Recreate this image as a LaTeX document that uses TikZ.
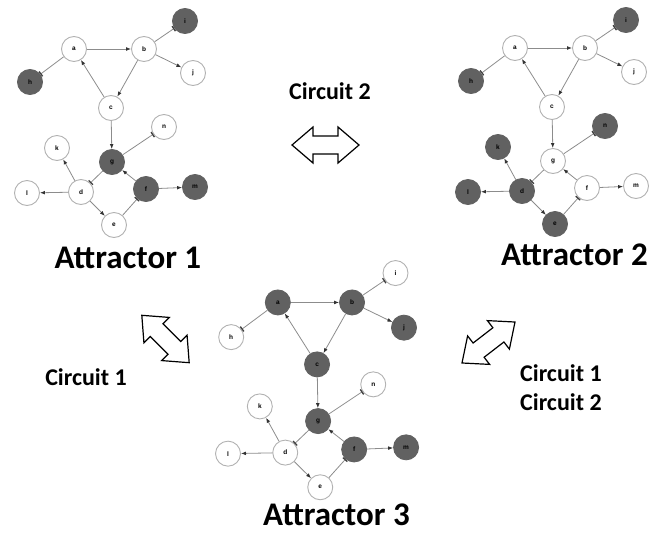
\documentclass[tikz,border=0pt]{standalone}
\usepackage{fontspec}
\setmainfont{Carlito}
\newfontfamily\lblfont{Liberation Sans}
\usetikzlibrary{arrows.meta}
\tikzset{
  nd/.style={circle, minimum size=25pt, inner sep=0pt, line width=0.9pt,
    font=\lblfont\bfseries\fontsize{6.5}{7}\selectfont},
  lt/.style={draw=black!30, fill=white},
  dk/.style={draw=black!62, fill=black!62},
  st-a/.style=lt, st-b/.style=lt, st-c/.style=lt, st-d/.style=lt, st-e/.style=lt,
  st-f/.style=lt, st-g/.style=lt, st-h/.style=lt, st-i/.style=lt, st-j/.style=lt,
  st-k/.style=lt, st-l/.style=lt, st-m/.style=lt, st-n/.style=lt,
  act/.style={draw=black!45, line width=0.8pt, -{Latex[length=5pt,width=3.8pt,color=black!80]}},
  inh/.style={draw=black!45, line width=0.8pt, -{Bar[width=6pt,line width=1.3pt,color=black!75]}},
  hollow/.style={draw=black, line width=1.2pt, fill=white, line join=miter},
  bigtitle/.style={font=\bfseries\fontsize{33}{36}\selectfont, inner sep=0pt},
  circ/.style={font=\bfseries\fontsize{24}{26}\selectfont, inner sep=0pt}
}
\newcommand\netw[2]{%
\begin{scope}[#2]
\node[nd,st-a] (#1a) at (74,49) {a};
\node[nd,st-b] (#1b) at (144,49) {b};
\node[nd,st-i] (#1i) at (185,21) {i};
\node[nd,st-h] (#1h) at (30,82) {h};
\node[nd,st-j] (#1j) at (193,73) {j};
\node[nd,st-c] (#1c) at (111,108) {c};
\node[nd,st-n] (#1n) at (164,127) {n};
\node[nd,st-g] (#1g) at (112,162) {g};
\node[nd,st-k] (#1k) at (57,148) {k};
\node[nd,st-d] (#1d) at (81,192) {d};
\node[nd,st-l] (#1l) at (27,193) {l};
\node[nd,st-f] (#1f) at (146,189) {f};
\node[nd,st-m] (#1m) at (195,187) {m};
\node[nd,st-e] (#1e) at (114,225) {e};
\draw[act] (#1a) -- (#1b);
\draw[inh] (#1b) -- (#1i);
\draw[act] (#1b) -- (#1j);
\draw[act] (#1b) -- (#1c);
\draw[act] (#1c) -- (#1a);
\draw[inh] (#1a) -- (#1h);
\draw[act] (#1c) -- (#1g);
\draw[inh] (#1g) -- (#1n);
\draw[inh] (#1g) -- (#1d);
\draw[act] (#1d) -- (#1k);
\draw[act] (#1d) -- (#1l);
\draw[act] (#1d) -- (#1e);
\draw[inh] (#1e) -- (#1f);
\draw[act] (#1f) -- (#1g);
\draw[act] (#1f) -- (#1m);
\end{scope}}
\newcommand\dblarr[3]{%
\draw[hollow, shift={(#1,#2)}, rotate=#3]
  (-33.5,0) -- (-12.5,-18) -- (-12.5,-9) -- (12.5,-9) -- (12.5,-18) -- (33.5,0)
  -- (12.5,18) -- (12.5,9) -- (-12.5,9) -- (-12.5,18) -- cycle;}
\begin{document}
\begin{tikzpicture}[x=1pt,y=-1pt]
\useasboundingbox (0,0) rectangle (650,533);
% Attractor 1
\netw{p}{st-i/.style=dk, st-h/.style=dk, st-g/.style=dk, st-f/.style=dk, st-m/.style=dk}
% Attractor 2
\netw{q}{shift={(441,-1)}, st-i/.style=dk, st-h/.style=dk, st-n/.style=dk, st-k/.style=dk,
  st-l/.style=dk, st-d/.style=dk, st-e/.style=dk}
% Attractor 3
\netw{r}{shift={(199.4,251)}, xscale=1.06, yscale=1.05, st-a/.style=dk, st-b/.style=dk,
  st-j/.style=dk, st-c/.style=dk, st-g/.style=dk, st-f/.style=dk, st-m/.style=dk}
% titles
\node[bigtitle, anchor=base] (t1) at (128,268) {Attractor 1};
\node[bigtitle, anchor=base] (t2) at (574.5,265) {Attractor 2};
\node[bigtitle, anchor=base] (t3) at (336.5,525) {Attractor 3};
\node[circ, anchor=base] (c2) at (330,99) {Circuit 2};
\node[circ, anchor=base east] (c1) at (127,385) {Circuit 1};
\node[circ, anchor=base west, align=left] (c12a) at (520,381) {Circuit 1};
\node[circ, anchor=base west, align=left] (c12b) at (520,410) {Circuit 2};
% hollow double arrows
\dblarr{325.5}{145}{0}
\dblarr{165.5}{339}{-45}
\dblarr{488.5}{342.5}{37.7}
\end{tikzpicture}
\end{document}
